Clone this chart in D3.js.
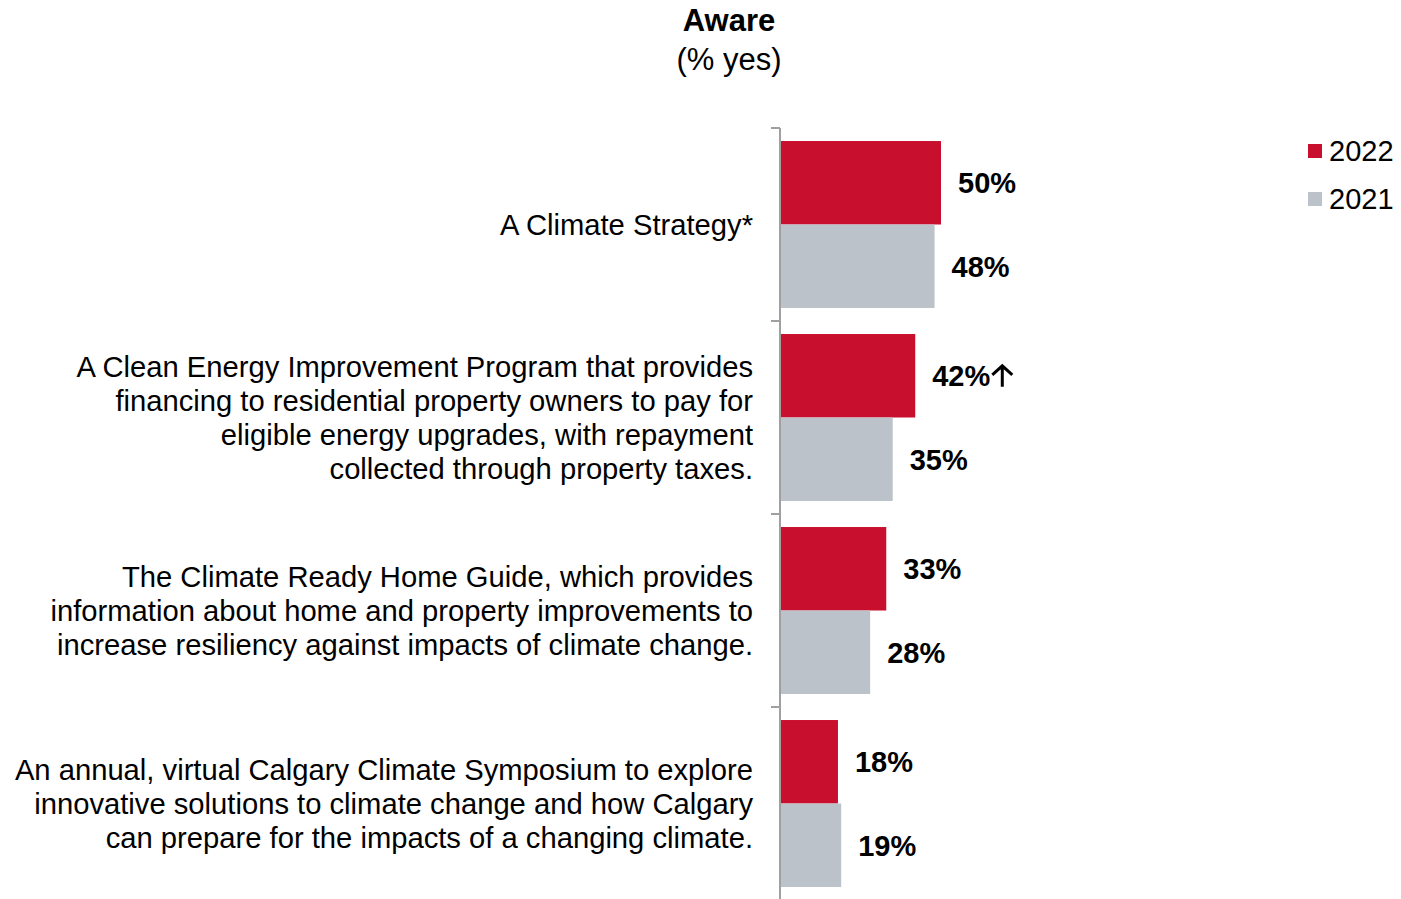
<!DOCTYPE html>
<html>
<head>
<meta charset="utf-8">
<script src="https://cdn.jsdelivr.net/npm/d3@7"></script>
<style>
  body { margin: 0; background: #fff; }
  svg text { font-family: "Liberation Sans", Arial, sans-serif; fill: #000; }
</style>
</head>
<body>
<script>
// categories, one entry per line of the wrapped label
const categories = [
  ["A Climate Strategy*"],
  ["A Clean Energy Improvement Program that provides",
   "financing to residential property owners to pay for",
   "eligible energy upgrades, with repayment",
   "collected through property taxes."],
  ["The Climate Ready Home Guide, which provides",
   "information about home and property improvements to",
   "increase resiliency against impacts of climate change."],
  ["An annual, virtual Calgary Climate Symposium to explore",
   "innovative solutions to climate change and how Calgary",
   "can prepare for the impacts of a changing climate."]
];
const series = ["2022", "2021"];
const values2022 = [50, 42, 33, 18];
const values2021 = [48, 35, 28, 19];
const sigUp2022 = [false, true, false, false]; // significant increase marker

const colors = { "2022": "#C8102E", "2021": "#BCC2C9" };

const W = 1401, H = 899;
const axisX = 780;

const svg = d3.select('body').append('svg')
  .attr('width', W)
  .attr('height', H);

// title
svg.append('text')
  .attr('x', 729).attr('y', 31)
  .attr('text-anchor', 'middle')
  .style('font-size', '31px').style('font-weight', 'bold')
  .text('Aware');
svg.append('text')
  .attr('x', 729).attr('y', 70)
  .attr('text-anchor', 'middle')
  .style('font-size', '31px')
  .text('(% yes)');

// scales
const y = d3.scaleBand()
  .domain(d3.range(categories.length))
  .range([128, 900])
  .paddingInner(0).paddingOuter(0);

const yInner = d3.scaleBand()
  .domain(series)
  .range([0, y.bandwidth()])
  .paddingOuter(0.156)
  .paddingInner(0);

const x = d3.scaleLinear()
  .domain([0, 50])
  .range([axisX, 941]);

const data = categories.map((lines, i) => ({
  lines,
  i,
  bars: [
    { s: "2022", v: values2022[i], up: sigUp2022[i] },
    { s: "2021", v: values2021[i], up: false }
  ]
}));

// bars
const groups = svg.selectAll('.cat')
  .data(data)
  .join('g')
  .attr('class', 'cat')
  .attr('transform', d => `translate(0,${y(d.i)})`);

groups.selectAll('rect')
  .data(d => d.bars)
  .join('rect')
  .attr('x', x(0))
  .attr('y', b => yInner(b.s))
  .attr('width', b => x(b.v) - x(0))
  .attr('height', yInner.bandwidth())
  .attr('fill', b => colors[b.s]);

// value labels
const vals = groups.selectAll('text.val')
  .data(d => d.bars)
  .join('text')
  .attr('class', 'val')
  .attr('x', b => x(b.v) + 17)
  .attr('y', b => yInner(b.s) + yInner.bandwidth() / 2)
  .attr('dy', '0.36em')
  .style('font-size', '29px').style('font-weight', 'bold')
  .text(b => b.v + '%');

// up arrow for significant increase
vals.each(function (b) {
  if (!b.up) return;
  const t = d3.select(this);
  const x0 = +t.attr('x') + this.getComputedTextLength() + 12;
  const yc = +t.attr('y');
  d3.select(this.parentNode).append('path')
    .attr('d', `M${x0},${yc - 9} L${x0},${yc + 11} M${x0 - 10},${yc - 1} L${x0},${yc - 10} L${x0 + 10},${yc - 1}`)
    .attr('fill', 'none')
    .attr('stroke', '#000')
    .attr('stroke-width', 3);
});

// category labels
const lineH = 34;
groups.append('text')
  .attr('class', 'cat-label')
  .attr('text-anchor', 'end')
  .style('font-size', '29.2px')
  .selectAll('tspan')
  .data(d => d.lines.map((l, k) => ({ l, k, n: d.lines.length })))
  .join('tspan')
  .attr('x', 753)
  .attr('y', t => y.bandwidth() / 2 + (t.k - (t.n - 1) / 2) * lineH)
  .attr('dy', '0.36em')
  .text(t => t.l);

// axis line with category separator ticks
const axisG = svg.append('g')
  .attr('transform', `translate(${axisX},0)`);
axisG.append('line')
  .attr('x1', 0).attr('x2', 0)
  .attr('y1', 128).attr('y2', 900)
  .attr('stroke', '#A0A0A0').attr('stroke-width', 2);
axisG.selectAll('line.tk')
  .data(d3.range(categories.length))
  .join('line')
  .attr('class', 'tk')
  .attr('x1', -9).attr('x2', 0)
  .attr('y1', i => y(i)).attr('y2', i => y(i))
  .attr('stroke', '#A0A0A0').attr('stroke-width', 2);

// legend
const legend = svg.append('g')
  .attr('transform', 'translate(1308,144)');
const items = legend.selectAll('g')
  .data(series)
  .join('g')
  .attr('transform', (s, i) => `translate(0,${i * 48})`);
items.append('rect')
  .attr('width', 14).attr('height', 14)
  .attr('fill', s => colors[s]);
items.append('text')
  .attr('x', 21).attr('y', 7)
  .attr('dy', '0.36em')
  .style('font-size', '29px')
  .text(s => s);
</script>
</body>
</html>
